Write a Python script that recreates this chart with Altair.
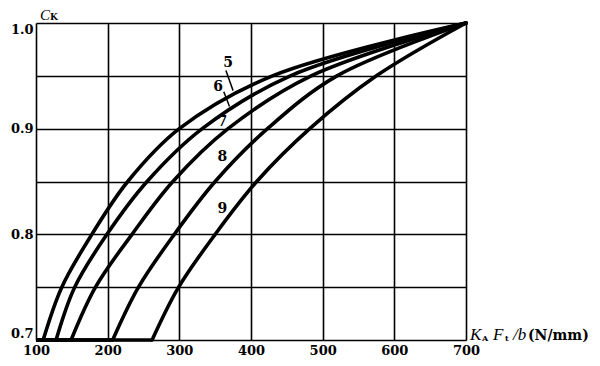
import altair as alt
import pandas as pd

# ---- data ----
curve_ids = ["5", "6", "7", "8", "9"]
x5 = [110, 136, 178, 228, 300, 430, 700]
y5 = [0.70, 0.75, 0.80, 0.85, 0.90, 0.95, 1.0]
x6 = [128, 154, 199, 255, 332, 455, 700]
y6 = [0.70, 0.75, 0.80, 0.85, 0.90, 0.95, 1.0]
x7 = [149, 183, 234, 291, 368, 484, 700]
y7 = [0.70, 0.75, 0.80, 0.85, 0.90, 0.95, 1.0]
x8 = [207, 243, 293, 350, 423, 520, 700]
y8 = [0.70, 0.75, 0.80, 0.85, 0.90, 0.95, 1.0]
x9 = [262, 299, 350, 408, 482, 575, 700]
y9 = [0.70, 0.75, 0.80, 0.85, 0.90, 0.95, 1.0]

x_grid = [100, 150, 200, 250, 300, 350, 400, 450, 500, 550, 600, 650, 700]
y_grid = [0.70, 0.75, 0.80, 0.85, 0.90, 0.95, 1.00]

label_x = [368, 354, 360, 360, 360]
label_y = [0.962, 0.939, 0.906, 0.873, 0.824]

leader_ids = ["5", "6"]
leader_x1 = [365, 362]
leader_y1 = [0.955, 0.935]
leader_x2 = [375, 370]
leader_y2 = [0.936, 0.921]

FONT = "Liberation Serif"
LFONT = "DejaVu Serif"

xs = [x5, x6, x7, x8, x9]
ys = [y5, y6, y7, y8, y9]
rows = []
for cid, xx, yy in zip(curve_ids, xs, ys):
    for i, (a, b) in enumerate(zip(xx, yy)):
        rows.append({"curve": cid, "x": a, "y": b, "o": i})
curves = pd.DataFrame(rows)

flat = pd.DataFrame({
    "curve": curve_ids,
    "x": [x_grid[0]] * len(curve_ids),
    "x2": [xx[0] for xx in xs],
    "y": [yy[0] for yy in ys],
})

labels = pd.DataFrame({"curve": curve_ids, "x": label_x, "y": label_y})
leaders = pd.DataFrame({"curve": leader_ids, "x": leader_x1, "y": leader_y1,
                        "x2": leader_x2, "y2": leader_y2})

xscale = alt.Scale(domain=[x_grid[0], x_grid[-1]], nice=False, zero=False)
yscale = alt.Scale(domain=[y_grid[0], y_grid[-1]], nice=False, zero=False)

xaxis = alt.Axis(values=x_grid, grid=True, gridColor="black", gridWidth=1.6,
                 gridOpacity=1, ticks=False, domain=False, title=None,
                 labelExpr="datum.value % 100 == 0 ? datum.label : ''",
                 labelFont=LFONT, labelFontSize=13, labelFontWeight="bold",
                 labelColor="black", labelPadding=4, labelFlush=False)
yaxis = alt.Axis(values=y_grid, grid=True, gridColor="black", gridWidth=1.6,
                 gridOpacity=1, ticks=False, domain=False, title=None,
                 labelExpr="abs(datum.value*10 - round(datum.value*10)) < 0.001 ? format(datum.value, '.1f') : ''",
                 labelFont=LFONT, labelFontSize=13, labelFontWeight="bold",
                 labelColor="black", labelPadding=3, labelFlush=True)

base_lines = alt.Chart(curves).mark_line(
    color="black", strokeWidth=3.6, interpolate="catmull-rom", strokeCap="round"
).encode(
    x=alt.X("x:Q", scale=xscale, axis=xaxis),
    y=alt.Y("y:Q", scale=yscale, axis=yaxis),
    detail="curve:N",
    order="o:Q",
)

flat_rules = alt.Chart(flat).mark_rule(color="black", strokeWidth=3.6).encode(
    x=alt.X("x:Q", scale=xscale), x2="x2:Q", y=alt.Y("y:Q", scale=yscale)
)

text_labels = alt.Chart(labels).mark_text(
    font=LFONT, fontSize=14, fontWeight="bold", color="black"
).encode(x=alt.X("x:Q", scale=xscale), y=alt.Y("y:Q", scale=yscale), text="curve:N")

leader_rules = alt.Chart(leaders).mark_rule(color="black", strokeWidth=1.5).encode(
    x=alt.X("x:Q", scale=xscale), y=alt.Y("y:Q", scale=yscale), x2="x2:Q", y2="y2:Q"
)

def txt(s, px, py, size=15, style="italic", weight="normal", font=FONT):
    return alt.Chart(pd.DataFrame({"t": [s]})).mark_text(
        font=font, fontSize=size, fontStyle=style, fontWeight=weight,
        color="black", align="left", baseline="alphabetic"
    ).encode(x=alt.value(px), y=alt.value(py), text="t:N")

titles = [
    txt("C", 4, -3, size=15),
    txt("K", 14, -3, size=9, style="normal", weight="bold", font=LFONT),
    txt("K", 434, 317, size=17),
    txt("A", 446, 318, size=8, style="normal", weight="bold", font=LFONT),
    txt("F", 457, 317, size=17),
    txt("t", 469, 318, size=8, style="normal", weight="bold", font=LFONT),
    txt("/b", 477, 317, size=17),
    txt("(N/mm)", 492, 317, size=14, style="normal", weight="bold", font=LFONT),
]

chart = alt.layer(base_lines, flat_rules, leader_rules, text_labels, *titles).properties(
    width=430, height=317,
    autosize=alt.AutoSizeParams(type="none"),
    padding={"left": 28, "top": 15, "right": 126, "bottom": 18},
).configure_view(stroke="black", strokeWidth=2).configure(background="white")

chart.save("out.html", embed_options={"renderer": "svg", "actions": False})
